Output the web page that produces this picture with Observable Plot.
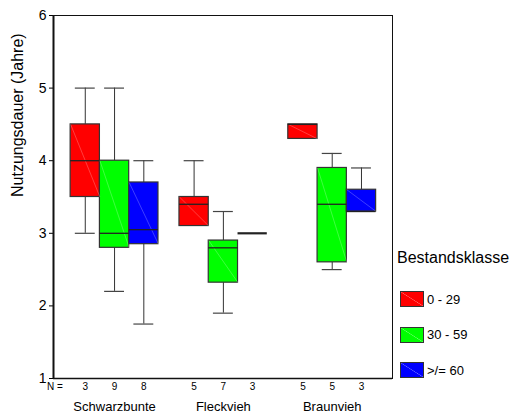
<!DOCTYPE html>
<html>
<head>
<meta charset="utf-8">
<script src="https://cdn.jsdelivr.net/npm/d3@7"></script>
<script src="https://cdn.jsdelivr.net/npm/@observablehq/plot@0.6"></script>
<style>
  html, body { margin: 0; padding: 0; background: #fff; }
  #wrap { position: relative; width: 510px; height: 412px; font-family: "Liberation Sans", Arial, sans-serif; }
  #legend { position: absolute; left: 397px; top: 248px; }
  .ltitle { font-size: 16px; line-height: 20px; color: #000; white-space: nowrap; }
  .item { position: absolute; left: 3px; height: 16px; display: flex; align-items: center; white-space: nowrap; }
  .sw { width: 22px; height: 14px; border: 1px solid #333; margin-right: 3px;
        background-image: linear-gradient(to top right, transparent calc(50% - 0.6px), rgba(255,255,255,0.4) 50%, transparent calc(50% + 0.6px)); }
  .lab { font-size: 13px; color: #000; }
</style>
</head>
<body>
<div id="wrap"></div>
<script>
// ---- data ----
const breeds = ["Schwarzbunte", "Fleckvieh", "Braunvieh"];
const classes = ["0 - 29", "30 - 59", ">/= 60"];
const classColors = ["#ff0000", "#00ff00", "#0000ff"];
// order: Schwarzbunte (3 classes), Fleckvieh (3), Braunvieh (3)
const nCount   = [3, 9, 8, 5, 7, 3, 5, 5, 3];
const whiskLo  = [3.0, 2.2, 1.75, 3.1, 1.9, 3.0, 4.3, 2.5, 3.3];
const q1       = [3.5, 2.8, 2.85, 3.1, 2.32, 3.0, 4.3, 2.6, 3.3];
const medians  = [4.0, 3.0, 3.05, 3.4, 2.8, 3.0, 4.5, 3.4, 3.3];
const q3       = [4.5, 4.0, 3.7, 3.5, 2.9, 3.0, 4.5, 3.9, 3.6];
const whiskHi  = [5.0, 5.0, 4.0, 4.0, 3.3, 3.0, 4.5, 4.1, 3.9];
const yTicks = [1, 2, 3, 4, 5, 6];

// ---- layout in data units ----
const W = 0.269;          // box width (in breed-index units)
const CAP = 0.68 * W;     // whisker cap width
const xDomain = [-0.561, 2.554];

const cells = [];
breeds.forEach((b, bi) => classes.forEach((c, ci) => {
  const k = bi * 3 + ci;
  const xc = bi + (ci - 1) * W;
  cells.push({
    breed: b, cls: c, n: nCount[k], xc,
    xa: xc - W / 2, xb: xc + W / 2,
    ca: xc - CAP / 2, cb: xc + CAP / 2,
    lo: whiskLo[k], q1: q1[k], med: medians[k], q3: q3[k], hi: whiskHi[k]
  });
}));
const hiW = cells.filter(d => d.hi > d.q3);
const loW = cells.filter(d => d.lo < d.q1);
const boxes = cells.filter(d => d.q3 > d.q1);

const chart = Plot.plot({
  width: 510, height: 412,
  marginLeft: 53, marginRight: 118, marginTop: 15, marginBottom: 34,
  style: { fontFamily: "'Liberation Sans', Arial, sans-serif", fontSize: "14px", background: "white", color: "#000", overflow: "visible" },
  x: { domain: xDomain, axis: null },
  y: { domain: [1, 6], ticks: yTicks, tickSize: 4, tickPadding: 3, label: null, tickFormat: d3.format("d") },
  color: { domain: classes, range: classColors },
  marks: [
    Plot.frame({ stroke: "#111" }),
    Plot.ruleX([xDomain[0]], { stroke: "#111", strokeWidth: 2 }),
    Plot.ruleY([1], { stroke: "#111", strokeWidth: 1.5 }),
    // whiskers
    Plot.ruleX(hiW, { x: "xc", y1: "q3", y2: "hi", stroke: "#333" }),
    Plot.ruleX(loW, { x: "xc", y1: "lo", y2: "q1", stroke: "#333" }),
    Plot.ruleY(hiW, { y: "hi", x1: "ca", x2: "cb", stroke: "#444", strokeWidth: 1.2 }),
    Plot.ruleY(loW, { y: "lo", x1: "ca", x2: "cb", stroke: "#444", strokeWidth: 1.2 }),
    // boxes
    Plot.rect(boxes, { x1: "xa", x2: "xb", y1: "q1", y2: "q3", fill: "cls", stroke: "#333", strokeWidth: 1.2 }),
    Plot.link(boxes, { x1: "xa", y1: "q3", x2: "xb", y2: "q1", stroke: "#fff", strokeOpacity: 0.3, strokeWidth: 0.8 }),
    Plot.ruleY(cells, { y: "med", x1: "xa", x2: "xb", stroke: "#222", strokeWidth: d => d.q3 > d.q1 ? 1.3 : 2.2 }),
    // N row
    Plot.text(["N ="], { frameAnchor: "bottom-left", dx: 1.5, dy: 11, fontSize: 10, textAnchor: "middle" }),
    Plot.text(cells, { x: "xc", text: d => String(d.n), frameAnchor: "bottom", dy: 11, fontSize: 10 }),
    // category labels
    Plot.text(breeds, { x: (d, i) => i, text: d => d, frameAnchor: "bottom", dy: 32, fontSize: 13 }),
    // y label
    Plot.text(["Nutzungsdauer (Jahre)"], { frameAnchor: "left", dx: -36, rotate: -90, fontSize: 16 })
  ]
});

const wrap = document.getElementById("wrap");
wrap.appendChild(chart);

// legend
const legend = document.createElement("div");
legend.id = "legend";
const title = document.createElement("div");
title.className = "ltitle";
title.textContent = "Bestandsklasse";
legend.appendChild(title);
classes.forEach((c, i) => {
  const it = document.createElement("div");
  it.className = "item";
  it.style.top = (43 + i * 35.5) + "px";
  const sw = document.createElement("div");
  sw.className = "sw";
  sw.style.backgroundColor = classColors[i];
  const lab = document.createElement("span");
  lab.className = "lab";
  lab.textContent = c;
  it.appendChild(sw); it.appendChild(lab);
  legend.appendChild(it);
});
wrap.appendChild(legend);
</script>
</body>
</html>
